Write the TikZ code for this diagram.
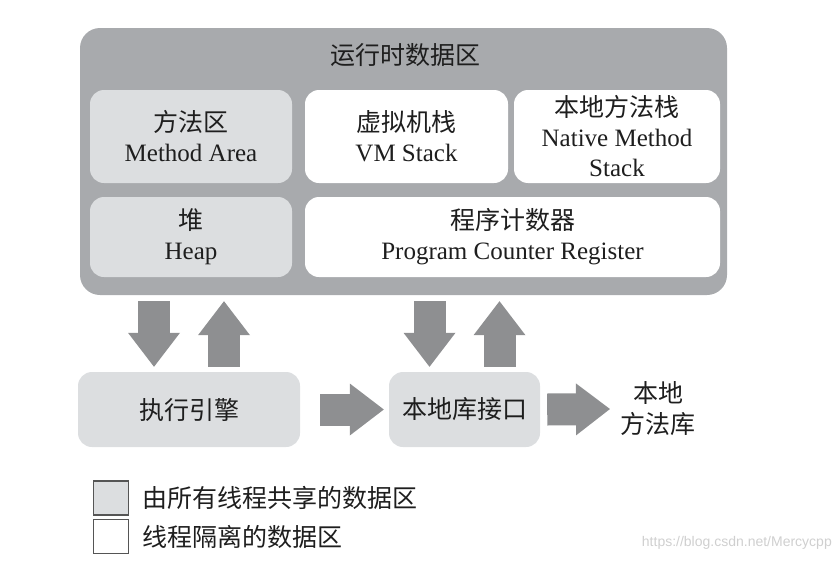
\documentclass[tikz,border=0pt]{standalone}
\usepackage{fontspec}
\setmainfont{Liberation Serif}
\newfontfamily\cjk{Noto Sans CJK SC}
\newfontfamily\wmfont{Liberation Sans}
\usetikzlibrary{arrows.meta,calc}
\definecolor{outergray}{HTML}{A8AAAD}
\definecolor{sharedgray}{HTML}{DCDEE0}
\definecolor{arrowgray}{HTML}{8E8F91}
\definecolor{txt}{HTML}{1E1E1E}
\definecolor{legendborder}{HTML}{555555}
\definecolor{wmgray}{HTML}{CFCFCF}
\begin{document}
\begin{tikzpicture}[x=1pt,y=1pt,
  every node/.style={text=txt, font=\fontsize{25}{30}\selectfont, align=center},
  areabox/.style={rounded corners=14pt, inner sep=0pt, minimum width=#1},
  shared/.style={areabox=#1, fill=sharedgray},
  private/.style={areabox=#1, fill=white},
  fatarrow/.style={draw=arrowgray, line width=32pt,
    -{Triangle[length=34pt, width=52pt, line width=0pt]}},
  legendbox/.style={draw=legendborder, line width=1.5pt, inner sep=0pt,
    minimum width=35pt, minimum height=34pt}
]
\useasboundingbox (0,0) rectangle (840,-562);

% runtime data area
\node[fill=outergray, rounded corners=20pt, inner sep=0pt,
      minimum width=647pt, minimum height=267pt] (rt) at (403.5,-161.5) {};
\node (rttitle) at (405,-55) {\cjk 运行时数据区};

\node[shared=202pt, minimum height=93pt] (method) at (191,-136.5)
  {{\cjk 方法区}\\Method Area};
\node[private=203pt, minimum height=93pt] (vmstack) at (406.5,-136.5)
  {{\cjk 虚拟机栈}\\VM Stack};
\node[private=206pt, minimum height=93pt] (native) at (617,-136.5)
  {{\cjk 本地方法栈}\\Native Method\\Stack};
\node[shared=202pt, minimum height=80pt] (heap) at (191,-237)
  {{\cjk 堆}\\Heap};
\node[private=415pt, minimum height=80pt] (pc) at (512.5,-237)
  {{\cjk 程序计数器}\\Program Counter Register};

% lower row
\node[shared=222pt, minimum height=75pt] (exec) at (189,-409.5) {\cjk 执行引擎};
\node[shared=151pt, minimum height=75pt] (lib) at (464.5,-409.5) {\cjk 本地库接口};
\node[font=\cjk\fontsize{25}{31}\selectfont] (natlib) at (658,-409) {本地\\方法库};

% arrows
\draw[fatarrow] ($(rt.south -| exec.north)+(-35,-6)$) -- ($(exec.north)+(-35,5)$);
\draw[fatarrow] ($(exec.north)+(35,5)$) -- ($(rt.south -| exec.north)+(35,-6)$);
\draw[fatarrow] ($(rt.south -| lib.north)+(-35,-6)$) -- ($(lib.north)+(-35,5)$);
\draw[fatarrow] ($(lib.north)+(35,5)$) -- ($(rt.south -| lib.north)+(35,-6)$);
\draw[fatarrow] ($(exec.east)+(20,0)$) -- ($(lib.west)+(-5,0)$);
\draw[fatarrow] ($(lib.east)+(7,0)$) -- ($(natlib.west)+(-7,0)$);

% legend
\node[legendbox, fill=sharedgray] (lg1) at (111,-498) {};
\node[anchor=west, inner sep=0pt] (lg1t) at (142,-498) {\cjk 由所有线程共享的数据区};
\node[legendbox, fill=white] (lg2) at (111,-536.5) {};
\node[anchor=west, inner sep=0pt] (lg2t) at (142,-536.5) {\cjk 线程隔离的数据区};

% watermark
\node[anchor=east, inner sep=0pt, text=wmgray, font=\wmfont\fontsize{14}{16}\selectfont]
  (wm) at (832,-543) {https://blog.csdn.net/Mercycpp};
\end{tikzpicture}
\end{document}
